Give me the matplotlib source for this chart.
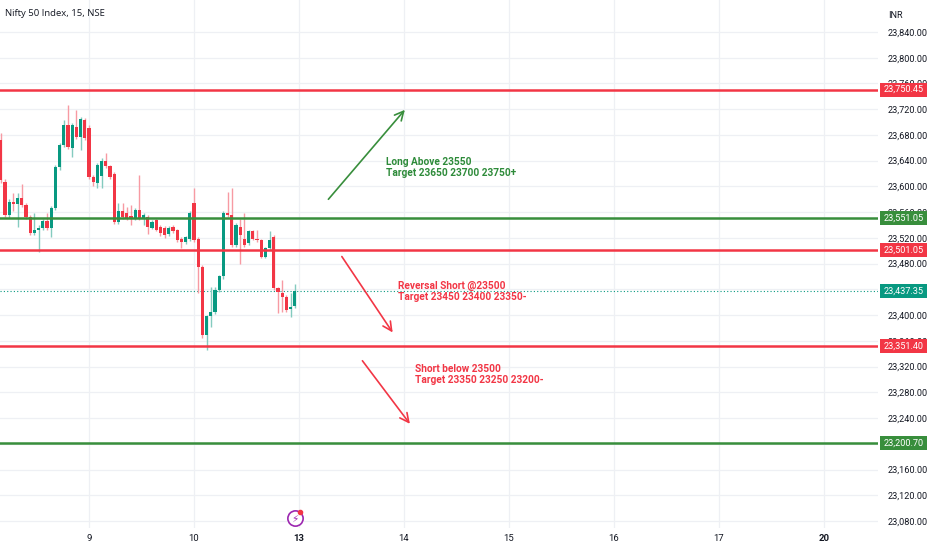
import matplotlib
matplotlib.use('Agg')
import matplotlib.pyplot as plt
import matplotlib.transforms as mtransforms
from matplotlib.patches import Rectangle
import numpy as np

plt.rcParams['font.family'] = ['Roboto', 'DejaVu Sans']

# 15 minute candles, Nifty 50 (last part of day 8, days 9 and 10)
opens = [23672, 23607, 23556, 23576, 23573, 23582, 23571, 23553, 23527, 23532,
         23535, 23546, 23536, 23566, 23630, 23665, 23695, 23660, 23693, 23677, 23703,
         23690, 23615, 23605, 23616, 23640, 23631, 23620, 23545, 23561, 23558,
         23554, 23550, 23563, 23550, 23552, 23536, 23548, 23537, 23535, 23526,
         23537, 23532, 23519, 23514, 23518,
         23574, 23519, 23475, 23369, 23398, 23405, 23439, 23460, 23558, 23555,
         23509, 23537, 23519, 23512, 23530, 23519, 23517, 23491, 23504, 23522,
         23442, 23434, 23428, 23410, 23414]
highs = [23683, 23612, 23581, 23590, 23590, 23604, 23574, 23555, 23558, 23540,
         23550, 23559, 23569, 23634, 23668, 23703, 23726, 23698, 23719, 23708, 23707,
         23695, 23618, 23636, 23644, 23652, 23633, 23622, 23574, 23574, 23568,
         23571, 23566, 23618, 23558, 23555, 23548, 23550, 23540, 23538, 23539,
         23540, 23534, 23521, 23523, 23561,
         23597, 23522, 23478, 23400, 23444, 23444, 23463, 23561, 23592, 23597,
         23543, 23550, 23558, 23532, 23532, 23532, 23519, 23506, 23530, 23525,
         23444, 23454, 23431, 23434, 23449]
lows = [23606, 23552, 23551, 23561, 23537, 23568, 23550, 23524, 23524, 23498,
        23532, 23533, 23522, 23563, 23625, 23661, 23658, 23646, 23674, 23657, 23672,
        23612, 23600, 23598, 23598, 23628, 23612, 23542, 23541, 23550, 23548,
        23540, 23548, 23548, 23540, 23526, 23534, 23530, 23523, 23520, 23523,
        23528, 23514, 23504, 23511, 23515,
        23514, 23434, 23365, 23346, 23382, 23402, 23436, 23456, 23553, 23506,
        23506, 23480, 23506, 23509, 23517, 23514, 23488, 23488, 23501, 23439,
        23403, 23405, 23405, 23397, 23411]
closes = [23610, 23556, 23576, 23573, 23582, 23571, 23553, 23527, 23532, 23535,
          23546, 23536, 23566, 23630, 23665, 23696, 23662, 23695, 23677, 23705, 23675,
          23615, 23607, 23633, 23640, 23631, 23615, 23545, 23562, 23553, 23550,
          23551, 23563, 23550, 23556, 23537, 23545, 23532, 23527, 23524, 23536,
          23531, 23517, 23514, 23521, 23558,
          23517, 23475, 23369, 23398, 23405, 23439, 23460, 23558, 23555, 23509,
          23540, 23524, 23509, 23530, 23519, 23517, 23491, 23504, 23516, 23442,
          23436, 23428, 23408, 23413, 23437.35]
first_bar = -21          # bar index of the first visible candle (day 9 opens at 0)
bars_per_day = 25

day_labels = ['9', '10', '13', '14', '15', '16', '17', '20']
bold_days = ['13', '20']

# horizontal levels drawn on the chart
levels = [23750.45, 23551.05, 23501.05, 23351.40, 23200.70]
level_colors = ['red', 'green', 'red', 'red', 'green']
last_price = 23437.35

notes = ['Long Above 23550\nTarget 23650 23700 23750+',
         'Reversal Short @23500\nTarget 23450 23400 23350-',
         'Short below 23500\nTarget 23350 23250 23200-']
note_colors = ['green', 'red', 'red']
note_pos = [(70.6, 23629), (73.6, 23437), (77.7, 23308)]
arrow_from = [(57.0, 23580), (60.2, 23491), (65.1, 23329)]
arrow_to = [(75.2, 23719), (72.3, 23373), (76.4, 23231)]

RED = '#F23645'
TEAL = '#089981'
GREEN = '#388E3C'
TXT = '#131722'
cmap = {'red': RED, 'green': GREEN}

fig = plt.figure(figsize=(9.32, 5.5), dpi=100)
ax = fig.add_axes([0, 22 / 550, 878 / 932, 528 / 550])

o = np.array(opens, float)
h = np.array(highs, float)
l = np.array(lows, float)
c = np.array(closes, float)
xs = np.arange(len(o)) + first_bar
up = c >= o
body_col = np.where(up, TEAL, RED)
wick_col = np.where(up, '#84CBBF', '#F79AA3')

ax.vlines(xs, l, h, colors=wick_col, lw=1, zorder=3)
ax.bar(xs, np.maximum(np.abs(c - o), 1.2), bottom=np.minimum(o, c),
       width=0.72, color=body_col, zorder=4, linewidth=0)

# Уровни
for lv, col in zip(levels, level_colors):
    ax.axhline(lv, color=cmap[col], lw=1.8, zorder=5)
ax.axhline(last_price, color=TEAL, lw=0.8, ls=(0, (1, 2)), zorder=2)

# Стрелки и подписи
for (x0, y0), (x1, y1), col in zip(arrow_from, arrow_to, note_colors):
    ax.annotate('', xy=(x1, y1), xytext=(x0, y0),
                arrowprops=dict(arrowstyle='->', color=cmap[col], lw=1.2,
                                mutation_scale=16, shrinkA=0, shrinkB=0))
for txt, (x0, y0), col in zip(notes, note_pos, note_colors):
    tcol = '#2E8B3A' if col == 'green' else RED
    ax.text(x0, y0, txt, color=tcol, fontsize=7.3, fontweight='bold',
            va='center', ha='left', linespacing=1.15)

# lightning icon near the "13" label
ax.plot(49.05, 23084.6, marker='o', ms=11, mfc='white', mec='#9C27B0', mew=1.2,
        zorder=6)
ax.text(49.05, 23083.5, '\u26a1', color='#9C27B0', fontsize=7.5,
        family=['DejaVu Sans'], ha='center', va='center', zorder=7)
ax.plot(50.2, 23093.9, marker='o', ms=3, color=RED, zorder=8)

ax.set_xlim(-21.19, 187.86)
ax.set_ylim(23069.1, 23889.7)

ticks_y = np.arange(23080, 23841, 40)
ax.set_yticks(ticks_y)
# labels fully covered by a price tag are left blank
covered = [t for t in ticks_y
           if min(abs(t - p) for p in levels + [last_price]) < 5]
ax.set_yticklabels(['' if t in covered else '{:,.2f}'.format(t) for t in ticks_y])
ax.yaxis.tick_right()
ax.tick_params(axis='y', length=0, pad=7, labelsize=6.6, labelcolor=TXT)

ticks_x = np.arange(len(day_labels)) * bars_per_day
ax.set_xticks(ticks_x)
ax.set_xticklabels(day_labels)
for lab in ax.get_xticklabels():
    if lab.get_text() in bold_days:
        lab.set_fontweight('bold')
ax.tick_params(axis='x', length=0, pad=4, labelsize=6.8, labelcolor=TXT)

ax.grid(color='#EEF0F4', lw=0.9, zorder=0)
ax.set_axisbelow(True)
for s in ax.spines.values():
    s.set_visible(False)

# Плашки цен на правой оси
trans = mtransforms.blended_transform_factory(fig.transFigure, ax.transData)
box_cols = [cmap[cc] for cc in level_colors] + [TEAL]
for lv, col in zip(levels + [last_price], box_cols):
    ax.add_patch(Rectangle((880 / 932, lv - 11), 47 / 932, 22, transform=trans,
                           facecolor=col, edgecolor='none', clip_on=False,
                           zorder=10))
    ax.text(903.5 / 932, lv, '{:,.2f}'.format(lv), transform=trans, color='white',
            fontsize=6.6, ha='center', va='center', zorder=11, clip_on=False)

fig.text(888 / 932, 1 - 15 / 550, 'INR', fontsize=6.6, color=TXT, va='center')
fig.text(5 / 932, 1 - 13 / 550, 'Nifty 50 Index, 15, NSE', fontsize=6.8,
         color=TXT, va='center', family=['Open Sans', 'DejaVu Sans'])

fig.savefig('out.png', dpi=100)
